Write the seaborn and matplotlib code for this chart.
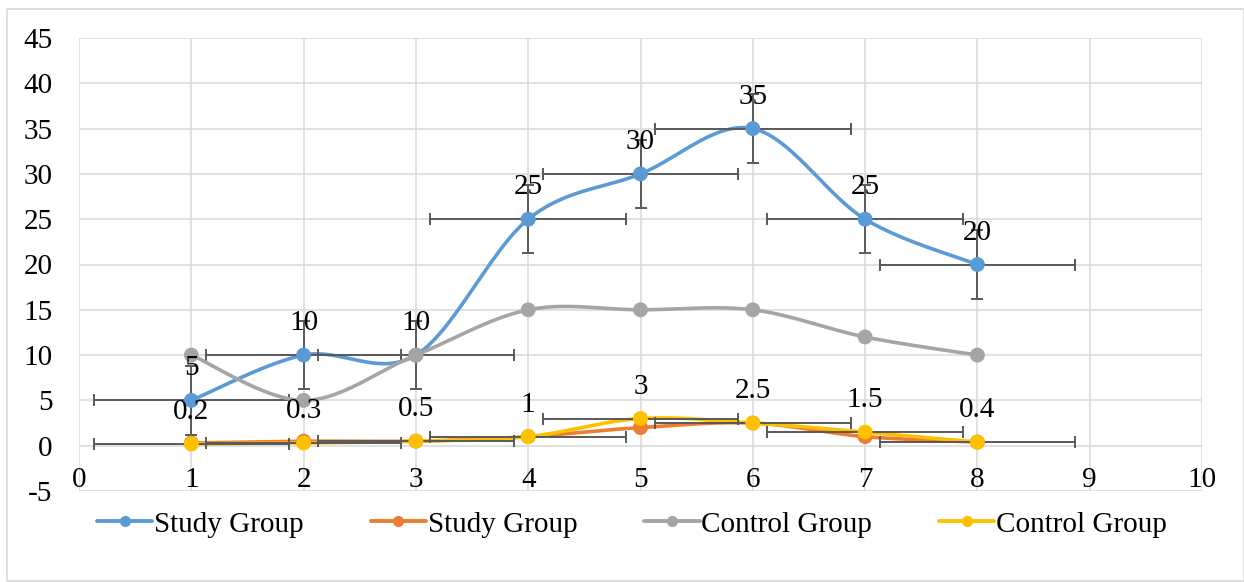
import numpy as np
import matplotlib
matplotlib.use("Agg")
import matplotlib.pyplot as plt
import seaborn as sns
from matplotlib.lines import Line2D
from matplotlib.patches import Rectangle

# Data
x_vals = [1, 2, 3, 4, 5, 6, 7, 8]
study_a = [5, 10, 10, 25, 30, 35, 25, 20]
study_b = [0.3, 0.5, 0.5, 1, 2, 2.5, 1, 0.4]
control_a = [10, 5, 10, 15, 15, 15, 12, 10]
control_b = [0.2, 0.3, 0.5, 1, 3, 2.5, 1.5, 0.4]
series_names = ["Study Group", "Study Group", "Control Group", "Control Group"]
colors = ["#5B9BD5", "#ED7D31", "#A5A5A5", "#FFC000"]

# standard error bars (x, y) shown on the blue and yellow series
study_a_err = (0.87, 3.78)
control_b_err = (0.87, 0.38)

sns.set_style("white")
plt.rcParams['font.family'] = ['Liberation Serif', 'DejaVu Serif']
plt.rcParams['axes.unicode_minus'] = False
plt.rcParams['text.color'] = 'black'
plt.rcParams['xtick.color'] = 'black'
plt.rcParams['ytick.color'] = 'black'

FS = 21


def smooth(xs, ys, n=30):
    # Excel-like smoothed line (bezier through the points)
    p = np.column_stack([xs, ys]).astype(float)
    p = np.vstack([p[0], p, p[-1]])
    t = np.linspace(0, 1, n)[:, None]
    out = []
    for i in range(1, len(p) - 2):
        p0, p1 = p[i], p[i + 1]
        c1 = p0 + (p[i + 1] - p[i - 1]) / 6
        c2 = p1 - (p[i + 2] - p[i]) / 6
        seg = (1 - t) ** 3 * p0 + 3 * (1 - t) ** 2 * t * c1 + 3 * (1 - t) * t ** 2 * c2 + t ** 3 * p1
        out.append(seg if i == 1 else seg[1:])
    out = np.vstack(out)
    return out[:, 0], out[:, 1]


fig = plt.figure(figsize=(12.44, 5.82), dpi=100)
ax = fig.add_axes([79 / 1244, 1 - 491 / 582, (1202 - 79) / 1244, (491 - 38) / 582])

all_series = [study_a, study_b, control_a, control_b]
for i, (vals, col) in enumerate(zip(all_series, colors)):
    sx, sy = smooth(x_vals, vals)
    sns.lineplot(x=sx, y=sy, sort=False, estimator=None, color=col, lw=2.6, ax=ax, zorder=3 + i)
    if i == 0:
        ax.errorbar(x_vals, vals, xerr=study_a_err[0], yerr=study_a_err[1], fmt='none',
                    ecolor='#595959', elinewidth=1.4, capsize=4.2, capthick=1.4, zorder=3 + i)
    if i == 3:
        ax.errorbar(x_vals, vals, xerr=control_b_err[0], yerr=control_b_err[1], fmt='none',
                    ecolor='#595959', elinewidth=1.4, capsize=4.2, capthick=1.4, zorder=3 + i)
    sns.scatterplot(x=x_vals, y=vals, color=col, s=115, edgecolor='none', ax=ax, zorder=3.5 + i)

# data labels above points
for vals in [study_a, control_b]:
    for xv, yv in zip(x_vals, vals):
        ax.annotate(f"{yv:g}", (xv, yv), xytext=(0, 23), textcoords='offset points',
                    ha='center', va='center', fontsize=FS, zorder=10)

ax.set_xlim(0, 10)
ax.set_ylim(-5, 45)
ax.set_xticks(range(0, 11))
ax.set_yticks(range(-5, 46, 5))
ax.grid(True, color='#D9D9D9', lw=1.1)
ax.set_axisbelow(True)
for s in ax.spines.values():
    s.set_visible(False)
ax.tick_params(axis='x', length=0, pad=-17, labelsize=FS)
ax.tick_params(axis='y', length=0, pad=19, labelsize=FS)
ax.set_xlabel("")
ax.set_ylabel("")

handles = [Line2D([0], [0], color=c, lw=2.8, marker='o', markersize=7) for c in colors]
fig.legend(handles, series_names, loc='center', bbox_to_anchor=(0.508, 0.099), ncol=4,
           frameon=False, fontsize=FS, handlelength=1.9, handletextpad=0.05, columnspacing=2.3)

fig.patches.append(Rectangle((7 / 1244, 0.002), 1 - 7 / 1244, 1 - 9 / 582 - 0.002,
                             transform=fig.transFigure, fill=False, edgecolor='#D9D9D9', lw=1.2))

fig.savefig('out.png', dpi=100)
